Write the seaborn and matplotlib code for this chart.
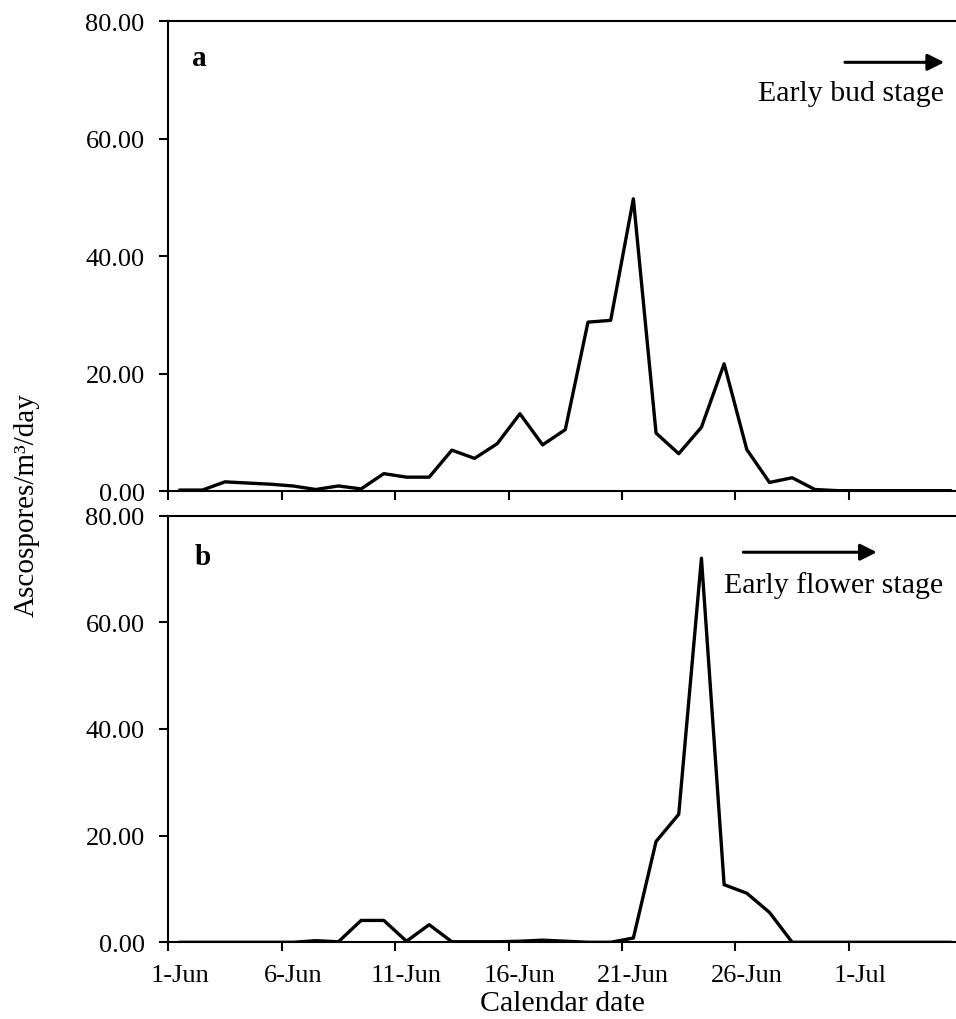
import numpy as np
import pandas as pd
import matplotlib
matplotlib.use('Agg')
import matplotlib.pyplot as plt
import seaborn as sns

# day index: 0 = 1-Jun ... 34 = 5-Jul
day = np.arange(35)

# panel a: ascospores/m3/day, early bud stage
spores_a = [0.2, 0.2, 1.6, 1.4, 1.2, 0.9, 0.3, 0.9, 0.4, 3.0,
            2.4, 2.4, 7.0, 5.6, 8.1, 13.2, 7.9, 10.5, 28.8, 29.1,
            49.8, 9.9, 6.4, 10.9, 21.7, 7.1, 1.5, 2.3, 0.3, 0.1,
            0.1, 0.1, 0.1, 0.1, 0.1]

# panel b: ascospores/m3/day, early flower stage
spores_b = [0.0, 0.0, 0.0, 0.0, 0.0, 0.0, 0.3, 0.1, 4.1, 4.1,
            0.2, 3.3, 0.1, 0.1, 0.1, 0.2, 0.4, 0.2, 0.0, 0.0,
            0.8, 18.9, 24.0, 72.0, 10.8, 9.2, 5.6, 0.0, 0.0, 0.0,
            0.0, 0.0, 0.0, 0.0, 0.0]

tick_days = [0, 5, 10, 15, 20, 25, 30]
tick_labels = ['1-Jun', '6-Jun', '11-Jun', '16-Jun', '21-Jun', '26-Jun', '1-Jul']
y_ticks = [0, 20, 40, 60, 80]

df = pd.DataFrame({'day': day, 'a': spores_a, 'b': spores_b})
# Excel style axis: points sit between the tick marks
df['pos'] = df['day'] + 0.5

sns.set_style('ticks')
plt.rcParams['font.family'] = ['Liberation Serif', 'DejaVu Serif']
plt.rcParams['axes.linewidth'] = 1.5
for k in ['text.color', 'axes.labelcolor', 'xtick.color', 'ytick.color', 'axes.edgecolor']:
    plt.rcParams[k] = 'black'

fig = plt.figure(figsize=(9.56, 10.2), dpi=100)
ax_a = fig.add_axes([0.176, 0.5174, 0.824, 0.4606])
ax_b = fig.add_axes([0.176, 0.0752, 0.824, 0.4184])

for ax, col in [(ax_a, 'a'), (ax_b, 'b')]:
    sns.lineplot(data=df, x='pos', y=col, ax=ax, color='black', linewidth=2.4)
    ax.set_xlim(0, 34.72)
    ax.set_ylim(0, 80)
    ax.set_yticks(y_ticks)
    ax.set_yticklabels(['%.2f' % v for v in y_ticks])
    ax.set_xticks(tick_days)
    ax.set_xticklabels([''] * len(tick_days))
    ax.tick_params(axis='both', which='major', direction='out', length=6.5,
                   width=1.5, labelsize=19, pad=10.5)
    ax.spines['right'].set_visible(False)
    ax.set_xlabel('')
    ax.set_ylabel('')

# date labels centred on the category, not on the tick marks
ax_b.set_xticks([d + 0.5 for d in tick_days], minor=True)
ax_b.set_xticklabels(tick_labels, minor=True)
ax_b.tick_params(axis='x', which='minor', length=0, labelsize=19, pad=15.5)
ax_b.set_xlabel('Calendar date', fontsize=21.5, labelpad=3)

# panel letters
ax_a.text(0.0297, 0.907, 'a', transform=ax_a.transAxes, fontsize=21,
          fontweight='bold', va='baseline', ha='left')
ax_b.text(0.0339, 0.886, 'b', transform=ax_b.transAxes, fontsize=21,
          fontweight='bold', va='baseline', ha='left')

# stage arrows
arrow = dict(arrowstyle='-|>', lw=2.2, color='black', mutation_scale=25,
             shrinkA=0, shrinkB=0)
ax_a.annotate('', xy=(0.985, 0.913), xytext=(0.859, 0.913),
              xycoords='axes fraction', arrowprops=arrow)
ax_a.text(0.985, 0.833, 'Early bud stage', transform=ax_a.transAxes,
          fontsize=21.5, ha='right', va='baseline')
ax_b.annotate('', xy=(0.8995, 0.914), xytext=(0.730, 0.914),
              xycoords='axes fraction', arrowprops=arrow)
ax_b.text(0.984, 0.820, 'Early flower stage', transform=ax_b.transAxes,
          fontsize=21.5, ha='right', va='baseline')

fig.text(27 / 956, 1 - 505 / 1020, 'Ascospores/m³/day', rotation=90,
         fontsize=21, ha='center', va='center')

fig.savefig('out.png', dpi=100)
